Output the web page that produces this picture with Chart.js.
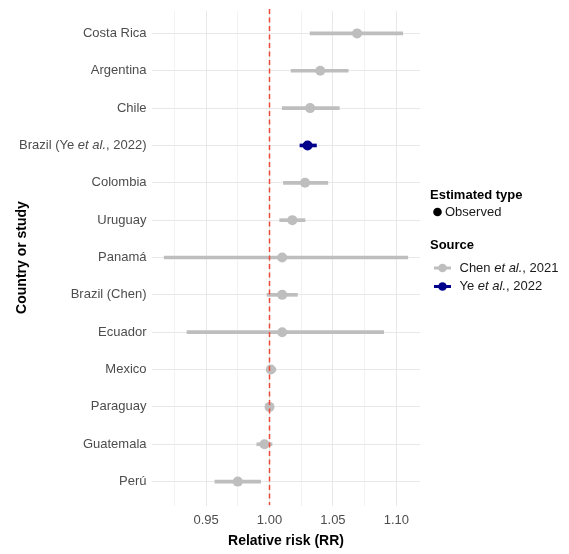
<!DOCTYPE html>
<html>
<head>
<meta charset="utf-8">
<script src="https://cdn.jsdelivr.net/npm/chart.js@4.4.1/dist/chart.umd.min.js"></script>
<style>
  html, body { margin: 0; padding: 0; background: #ffffff; }
  #wrap { width: 569px; height: 554px; position: relative; }
</style>
</head>
<body>
<div id="wrap"><canvas id="c"></canvas></div>
<script>
// ---- Data ----
const categories = ['Costa Rica', 'Argentina', 'Chile', 'Brazil (Ye et al., 2022)', 'Colombia', 'Uruguay', 'Panamá', 'Brazil (Chen)', 'Ecuador', 'Mexico', 'Paraguay', 'Guatemala', 'Perú'];
const rr    = [1.069, 1.040, 1.032, 1.030, 1.028, 1.018, 1.010, 1.010, 1.010, 1.001, 1.000, 0.996, 0.975];
const lower = [1.032, 1.017, 1.010, 1.024, 1.011, 1.008, 0.917, 0.998, 0.935, 0.999, 0.999, 0.990, 0.957];
const upper = [1.105, 1.062, 1.055, 1.037, 1.046, 1.028, 1.109, 1.022, 1.090, 1.005, 1.001, 1.002, 0.993];
const source = ['Chen', 'Chen', 'Chen', 'Ye', 'Chen', 'Chen', 'Chen', 'Chen', 'Chen', 'Chen', 'Chen', 'Chen', 'Chen'];
const sourceNames = ['Chen', 'Ye'];
const sourceLabels = ['Chen et al., 2021', 'Ye et al., 2022'];
const typeLabels = ['Observed'];
const xMajorTicks = [0.95, 1.00, 1.05, 1.10];
const xTickLabels = ['0.95', '1.00', '1.05', '1.10'];
const xMinorTicks = [0.925, 0.975, 1.025, 1.075];
const refValue = 1.00;

// ---- Styles ----
const FONT = "'Liberation Sans', Arial, Helvetica, sans-serif";
const colors = { Chen: '#bebebe', Ye: '#00008b' };
const textColor = '#4d4d4d';

function mixedParts(text) {
  return text.split(/(et al\.)/).filter(s => s.length).map(s => ({ text: s, italic: s === 'et al.' }));
}
function drawMixed(ctx, text, x, y, size, align, color) {
  const parts = mixedParts(text);
  let total = 0;
  parts.forEach(p => {
    ctx.font = (p.italic ? 'italic ' : '') + size + 'px ' + FONT;
    p.w = ctx.measureText(p.text).width;
    total += p.w;
  });
  let cx = align === 'right' ? x - total : x;
  ctx.fillStyle = color;
  ctx.textAlign = 'left';
  ctx.textBaseline = 'middle';
  parts.forEach(p => {
    ctx.font = (p.italic ? 'italic ' : '') + size + 'px ' + FONT;
    ctx.fillText(p.text, cx, y);
    cx += p.w;
  });
}

const idx = categories.map((_, i) => i);
function ciData(src) {
  return idx.filter(i => source[i] === src).map(i => ({ x: [lower[i], upper[i]], y: i }));
}
function ptData(src) {
  return idx.filter(i => source[i] === src).map(i => ({ x: rr[i], y: i }));
}

const datasets = [];
sourceNames.forEach(src => {
  datasets.push({
    type: 'bar', indexAxis: 'y', data: ciData(src),
    backgroundColor: colors[src], borderWidth: 0, barThickness: 3, grouped: false, order: 2
  });
});
sourceNames.forEach(src => {
  datasets.push({
    type: 'scatter', data: ptData(src),
    backgroundColor: colors[src], borderColor: colors[src], borderWidth: 0,
    pointRadius: 5, pointHoverRadius: 5, order: 1
  });
});

const overlay = {
  id: 'overlay',
  afterDatasetsDraw(chart) {
    const ctx = chart.ctx;
    const xs = chart.scales.x;
    const area = chart.chartArea;
    const px = xs.getPixelForValue(refValue);
    ctx.save();
    ctx.strokeStyle = '#ee4a3a';
    ctx.lineWidth = 1.5;
    ctx.setLineDash([5, 3.5]);
    ctx.beginPath();
    ctx.moveTo(px, area.top - 2);
    ctx.lineTo(px, area.bottom + 1);
    ctx.stroke();
    ctx.restore();
  },
  afterDraw(chart) {
    const ctx = chart.ctx;
    const ys = chart.scales.y;
    ctx.save();
    categories.forEach((c, i) => {
      drawMixed(ctx, c, 146.5, ys.getPixelForValue(i), 13, 'right', textColor);
    });
    const lx = 430;
    ctx.fillStyle = '#000';
    ctx.textAlign = 'left';
    ctx.textBaseline = 'middle';
    ctx.font = 'bold 13px ' + FONT;
    ctx.fillText('Estimated type', lx, 195);
    ctx.beginPath();
    ctx.arc(437.5, 212, 4.3, 0, Math.PI * 2);
    ctx.fillStyle = '#000';
    ctx.fill();
    drawMixed(ctx, typeLabels[0], 445, 212.5, 13, 'left', '#1a1a1a');
    ctx.fillStyle = '#000';
    ctx.font = 'bold 13px ' + FONT;
    ctx.fillText('Source', lx, 245.5);
    const keyY = [268, 286.5];
    sourceNames.forEach((src, k) => {
      const y = keyY[k];
      ctx.strokeStyle = colors[src];
      ctx.lineWidth = 3;
      ctx.beginPath();
      ctx.moveTo(434, y);
      ctx.lineTo(451, y);
      ctx.stroke();
      ctx.beginPath();
      ctx.arc(442.5, y, 4.3, 0, Math.PI * 2);
      ctx.fillStyle = colors[src];
      ctx.fill();
      drawMixed(ctx, sourceLabels[k], 459.5, y, 13, 'left', '#1a1a1a');
    });
    ctx.restore();
  }
};

const allXTicks = xMinorTicks.concat(xMajorTicks).sort((a, b) => a - b);
function isMajor(v) { return xMajorTicks.some(m => Math.abs(m - v) < 1e-9); }

new Chart(document.getElementById('c'), {
  data: { datasets },
  options: {
    responsive: true,
    maintainAspectRatio: false,
    animation: false,
    events: [],
    layout: { padding: { top: 11, right: 149, left: 0, bottom: 0 } },
    plugins: { legend: { display: false }, tooltip: { enabled: false } },
    scales: {
      x: {
        type: 'linear',
        position: 'bottom',
        min: 0.9074, max: 1.1186,
        offset: false,
        afterBuildTicks(scale) { scale.ticks = allXTicks.map(v => ({ value: v })); },
        afterFit(scale) { scale.height = 50; },
        border: { display: false },
        grid: {
          offset: false,
          color: ctx => (ctx.tick && isMajor(ctx.tick.value)) ? '#e8e8e8' : '#f2f2f2',
          lineWidth: 1,
          drawTicks: true, tickLength: 2
        },
        ticks: {
          autoSkip: false, maxRotation: 0, padding: 7,
          color: textColor,
          font: { family: FONT, size: 13 },
          callback: (v) => {
            const k = xMajorTicks.findIndex(m => Math.abs(m - v) < 1e-9);
            return k >= 0 ? xTickLabels[k] : '';
          }
        },
        title: {
          display: true, text: 'Relative risk (RR)', color: '#000',
          font: { family: FONT, size: 14, weight: 'bold' },
          padding: { top: 0, bottom: 4 }
        }
      },
      y: {
        type: 'linear',
        position: 'left',
        reverse: true,
        offset: false,
        min: -0.6, max: categories.length - 1 + 0.6,
        afterBuildTicks(scale) { scale.ticks = idx.map(v => ({ value: v })); },
        afterFit(scale) { scale.width = 152; },
        border: { display: false },
        grid: { offset: false, color: '#e8e8e8', lineWidth: 1, drawTicks: false },
        ticks: { display: false },
        title: {
          display: true, text: 'Country or study', color: '#000',
          font: { family: FONT, size: 14, weight: 'bold' },
          padding: { top: 14, bottom: 0 }
        }
      }
    }
  },
  plugins: [overlay]
});
</script>
</body>
</html>
